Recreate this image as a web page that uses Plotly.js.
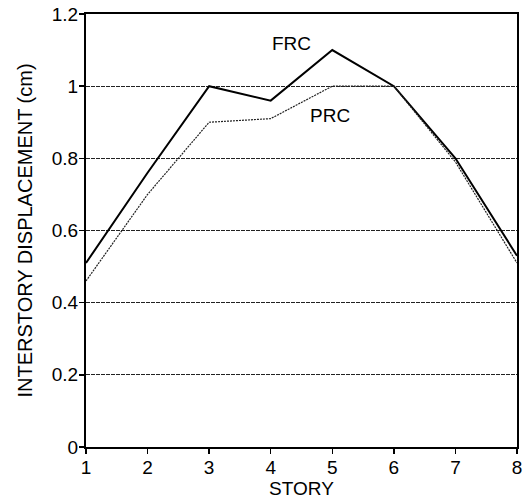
<!DOCTYPE html>
<html>
<head>
<meta charset="utf-8">
<script src="https://cdn.plot.ly/plotly-3.0.1.min.js"></script>
<style>html,body{margin:0;padding:0;background:#fff;}#chart{width:523px;height:499px;}</style>
</head>
<body>
<div id="chart"></div>
<script>
const stories = [1, 2, 3, 4, 5, 6, 7, 8];
const frc = [0.51, 0.76, 1.0, 0.96, 1.10, 1.0, 0.80, 0.53];
const prc = [0.46, 0.70, 0.90, 0.91, 1.0, 1.0, 0.79, 0.51];
const yTicks = [0, 0.2, 0.4, 0.6, 0.8, 1, 1.2];
const yTickText = ['0', '0.2', '0.4', '0.6', '0.8', '1', '1.2'];

const font = {family: 'Liberation Sans, Arial, Helvetica, sans-serif', color: '#000', size: 19};

const traces = [
  {x: stories, y: frc, type: 'scatter', mode: 'lines', name: 'FRC',
   line: {color: '#000', width: 2}},
  {x: stories, y: prc, type: 'scatter', mode: 'lines', name: 'PRC',
   line: {color: '#222', width: 1.2, dash: '2px,1px'}}
];

const layout = {
  width: 523, height: 499,
  margin: {l: 86, r: 6, t: 14, b: 52},
  paper_bgcolor: '#fff', plot_bgcolor: '#fff',
  showlegend: false,
  font: font,
  xaxis: {
    range: [1, 8], tickvals: stories, ticktext: stories.map(String),
    ticks: 'outside', ticklen: 5, tickwidth: 1.5, tickcolor: '#000',
    ticklabelstandoff: -3,
    showgrid: false, zeroline: false,
    showline: true, linecolor: '#000', linewidth: 2, mirror: true,
    tickfont: {size: 19},
    title: {text: 'STORY', font: {size: 19}, standoff: 4}
  },
  yaxis: {
    range: [0, 1.2], tickvals: yTicks, ticktext: yTickText,
    ticks: 'outside', ticklen: 5, tickwidth: 1.5, tickcolor: '#000',
    ticklabelstandoff: -3,
    showgrid: true, gridcolor: '#222', gridwidth: 1, griddash: '4px,1px',
    zeroline: false,
    showline: true, linecolor: '#000', linewidth: 2, mirror: true,
    tickfont: {size: 19},
    title: {text: 'INTERSTORY DISPLACEMENT (cm)', font: {size: 20}, standoff: 14}
  },
  annotations: [
    {x: 4.33, y: 1.119, xref: 'x', yref: 'y', text: 'FRC', showarrow: false, font: {size: 19}},
    {x: 4.96, y: 0.92, xref: 'x', yref: 'y', text: 'PRC', showarrow: false, font: {size: 19}}
  ]
};

Plotly.newPlot('chart', traces, layout, {displayModeBar: false, staticPlot: true});
</script>
</body>
</html>
